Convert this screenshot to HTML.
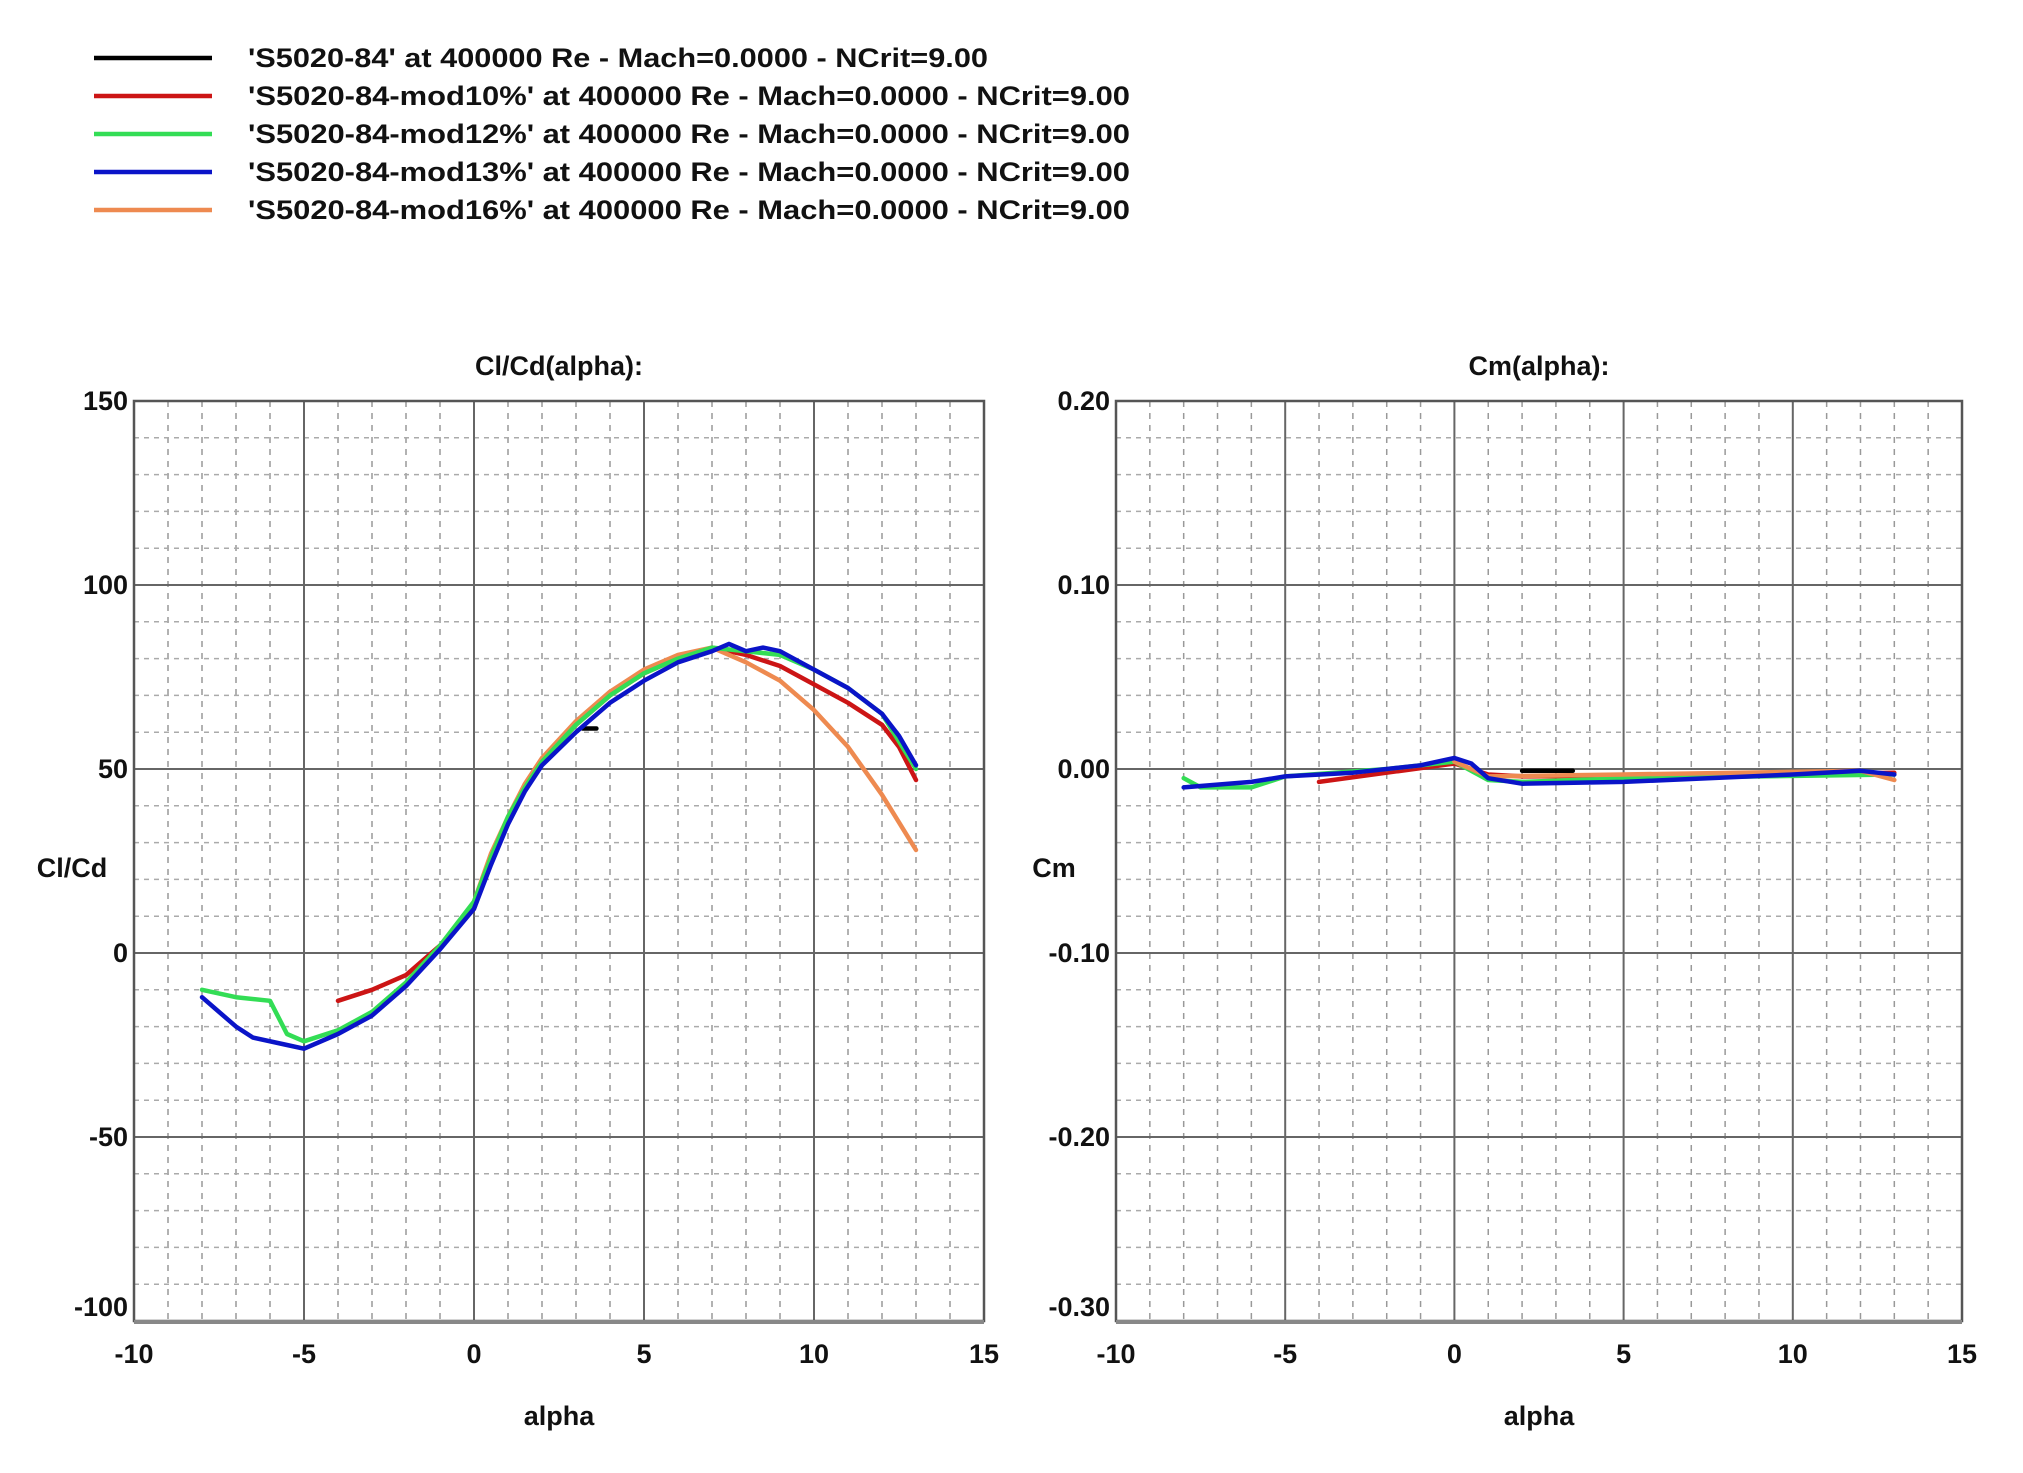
<!DOCTYPE html>
<html><head><meta charset="utf-8"><style>
html,body{margin:0;padding:0;background:#fff;}
svg{display:block;}
text{font-family:"Liberation Sans",Arial,sans-serif;font-weight:bold;fill:#111;}
</style></head><body>
<svg id="s" width="2023" height="1473" viewBox="0 0 2023 1473" xmlns="http://www.w3.org/2000/svg">
<g id="leg">
<line x1="94" y1="58" x2="212" y2="58" stroke="#000" stroke-width="4.5"/>
<line x1="94" y1="96" x2="212" y2="96" stroke="#cc1515" stroke-width="4.5"/>
<line x1="94" y1="134" x2="212" y2="134" stroke="#33dd55" stroke-width="4.5"/>
<line x1="94" y1="172" x2="212" y2="172" stroke="#0a14c8" stroke-width="4.5"/>
<line x1="94" y1="210" x2="212" y2="210" stroke="#ee8a50" stroke-width="4.5"/>
<text x="248" y="67" font-size="27" textLength="740" lengthAdjust="spacingAndGlyphs">'S5020-84' at 400000 Re - Mach=0.0000 - NCrit=9.00</text>
<text x="248" y="105" font-size="27" textLength="882" lengthAdjust="spacingAndGlyphs">'S5020-84-mod10%' at 400000 Re - Mach=0.0000 - NCrit=9.00</text>
<text x="248" y="143" font-size="27" textLength="882" lengthAdjust="spacingAndGlyphs">'S5020-84-mod12%' at 400000 Re - Mach=0.0000 - NCrit=9.00</text>
<text x="248" y="181" font-size="27" textLength="882" lengthAdjust="spacingAndGlyphs">'S5020-84-mod13%' at 400000 Re - Mach=0.0000 - NCrit=9.00</text>
<text x="248" y="219" font-size="27" textLength="882" lengthAdjust="spacingAndGlyphs">'S5020-84-mod16%' at 400000 Re - Mach=0.0000 - NCrit=9.00</text>
</g>
</svg>
<script>
var s=document.getElementById('s'),NS='http://www.w3.org/2000/svg';
function el(t,a,txt){var e=document.createElementNS(NS,t);for(var k in a)e.setAttribute(k,a[k]);if(txt!=null)e.textContent=txt;s.appendChild(e);return e;}
function plot(o){
 var X=function(a){return o.x0+(a+10)*(o.x1-o.x0)/25;};
 var Y=function(v){return o.y0+(o.ymax-v)*(o.y1-o.y0)/(o.ymax-o.ymin);};
 for(var a=-10;a<=15;a++){if(a%5)el('line',{x1:X(a),y1:o.y0,x2:X(a),y2:o.y1,stroke:'#999','stroke-width':1.5,'stroke-dasharray':'6,6'});}
 var n=25;for(var i=0;i<=n;i++){var v=o.ymin+i*(o.ymax-o.ymin)/n;if(i%5)el('line',{x1:o.x0,y1:Y(v),x2:o.x1,y2:Y(v),stroke:'#aaa','stroke-width':1.5,'stroke-dasharray':'5,5'});}
 for(var a=-10;a<=15;a+=5){el('line',{x1:X(a),y1:o.y0,x2:X(a),y2:o.y1,stroke:'#666','stroke-width':2});
  el('text',{x:X(a),y:o.y1+42,'font-size':27,'text-anchor':'middle'},String(a));}
 for(var i=0;i<=5;i++){var v=o.ymin+i*(o.ymax-o.ymin)/5;el('line',{x1:o.x0,y1:Y(v),x2:o.x1,y2:Y(v),stroke:'#666','stroke-width':2});
  el('text',{x:o.x0-6,y:Y(v)+(i==0?-5:9),'font-size':27,'text-anchor':'end'},o.fmt(v));}
 el('rect',{x:o.x0,y:o.y0,width:o.x1-o.x0,height:o.y1-o.y0,fill:'none',stroke:'#555','stroke-width':2.5});
 el('line',{x1:o.x0,y1:o.y1+1,x2:o.x1,y2:o.y1+1,stroke:'#888','stroke-width':4});
 el('text',{x:(o.x0+o.x1)/2,y:375,'font-size':27,'text-anchor':'middle'},o.title);
 el('text',{x:(o.x0+o.x1)/2,y:1425,'font-size':27,'text-anchor':'middle'},'alpha');
 el('text',{x:o.lx,y:877,'font-size':27,'text-anchor':'middle'},o.ylab);
 o.series.forEach(function(sr){var d=sr.p.map(function(p,i){return (i?'L':'M')+X(p[0]).toFixed(1)+','+Y(p[1]).toFixed(1);}).join('');
  el('path',{d:d,fill:'none',stroke:sr.c,'stroke-width':4.5,'stroke-linejoin':'round','stroke-linecap':'round'});});
}
var C={k:'#000',r:'#cc1515',g:'#33dd55',b:'#0a14c8',o:'#ee8a50'};
var mid=[[0,12],[0.5,25],[1,36],[1.5,45],[2,52],[3,62],[4,70],[5,76],[6,80],[7,83]];
plot({x0:134,x1:984,y0:401,y1:1321,ymin:-100,ymax:150,fmt:function(v){return Math.round(v)+'';},title:'Cl/Cd(alpha):',ylab:'Cl/Cd',lx:72,
series:[
 {c:C.k,p:[[3.2,61],[3.6,61]]},
 {c:C.r,p:[[-4,-13],[-3,-10],[-2,-6],[-1,2]].concat(mid,[[8,81],[9,78],[10,73],[11,68],[12,62],[12.5,56],[13,47]])},
 {c:C.o,p:[[0,14],[0.5,27],[1,37],[1.5,46],[2,53],[3,63],[4,71],[5,77],[6,81],[7,83],[8,79],[9,74],[10,66],[11,56],[12,43],[13,28]]},
 {c:C.g,p:[[-8,-10],[-7,-12],[-6,-13],[-5.5,-22],[-5,-24],[-4,-21],[-3,-16],[-2,-8],[-1,2],[0,14],[0.5,26],[1,37],[1.5,45],[2,52],[3,62],[4,70],[5,76],[6,80],[7,83],[8,82],[9,81],[10,77],[11,72],[12,65],[13,50]]},
 {c:C.b,p:[[-8,-12],[-7,-20],[-6.5,-23],[-5.5,-25],[-5,-26],[-4,-22],[-3,-17],[-2,-9],[-1,1],[0,12],[0.5,24],[1,35],[1.5,44],[2,51],[3,60],[4,68],[5,74],[6,79],[7,82],[7.5,84],[8,82],[8.5,83],[9,82],[10,77],[11,72],[12,65],[12.5,59],[13,51]]}
]});
plot({x0:1116,x1:1962,y0:401,y1:1321,ymin:-0.3,ymax:0.2,fmt:function(v){return v.toFixed(2);},title:'Cm(alpha):',ylab:'Cm',lx:1054,
series:[
 {c:C.k,p:[[2,-0.001],[3.5,-0.001]]},
 {c:C.r,p:[[-4,-0.007],[-2,-0.002],[0,0.003],[1,-0.003],[2,-0.004],[10,-0.003],[13,-0.002]]},
 {c:C.g,p:[[-8,-0.005],[-7.5,-0.010],[-6,-0.010],[-5,-0.004],[-2,0],[0,0.004],[1,-0.006],[2,-0.007],[5,-0.005],[13,-0.003]]},
 {c:C.o,p:[[0,0.004],[1,-0.004],[5,-0.003],[12,-0.001],[13,-0.006]]},
 {c:C.b,p:[[-8,-0.010],[-6,-0.007],[-5,-0.004],[-3,-0.002],[-1,0.002],[0,0.006],[0.5,0.003],[1,-0.005],[2,-0.008],[5,-0.007],[10,-0.003],[12,-0.001],[13,-0.003]]}
]});
</script>
</body></html>
